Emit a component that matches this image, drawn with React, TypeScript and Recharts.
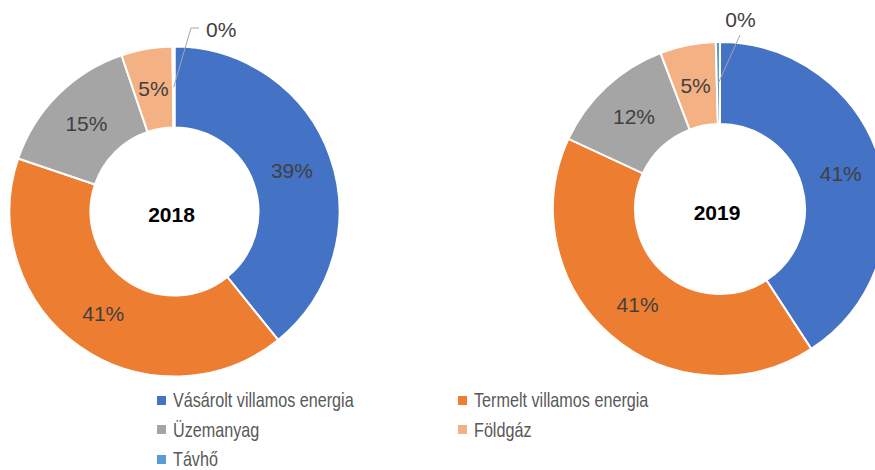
import React from 'react';
import { PieChart, Pie, Cell, Legend } from 'recharts';

// shares of energy sources, percent
const categories = ['Vásárolt villamos energia', 'Termelt villamos energia', 'Üzemanyag', 'Földgáz', 'Távhő'];
const values2018 = [39.2, 41.0, 14.6, 5.0, 0.2];
const values2019 = [40.8, 41.1, 12.3, 5.4, 0.4];
const years = ['2018', '2019'];
const colors = ['#4472C4', '#ED7D31', '#A5A5A5', '#F4B183', '#5B9BD5'];

const RADIAN = Math.PI / 180;
const FONT = '"Liberation Sans", Arial, sans-serif';

const toRows = (values: number[]) => categories.map((name, i) => ({ name, value: values[i] }));

interface Leader {
  dx: number;
  dy: number;
  tail: number;
  textDx: number;
  textDy: number;
  anchor: 'start' | 'middle';
}

// percent labels sit mid-ring; the tiny slice gets a leader line out of the ring.
// the year is drawn in the hole together with the first slice's label
const makeLabel = (year: string, leader: Leader) => (props: any) => {
  const { cx, cy, midAngle, innerRadius, outerRadius, percent, index } = props;
  const r = (innerRadius + outerRadius) / 2;
  const x = cx + r * Math.cos(-midAngle * RADIAN);
  const y = cy + r * Math.sin(-midAngle * RADIAN);
  const text = `${Math.round(percent * 100)}%`;

  if (index === categories.length - 1) {
    const ex = cx + leader.dx;
    const ey = cy + leader.dy;
    return (
      <g>
        <polyline
          points={`${x},${y} ${ex},${ey} ${ex + leader.tail},${ey}`}
          fill="none"
          stroke="#A6A6A6"
          strokeWidth={1}
        />
        <text
          x={cx + leader.textDx}
          y={cy + leader.textDy}
          textAnchor={leader.anchor}
          dominantBaseline="central"
          fill="#404040"
          fontSize={21}
          fontFamily={FONT}
        >
          {text}
        </text>
      </g>
    );
  }

  return (
    <g>
      <text
        x={x}
        y={y}
        textAnchor="middle"
        dominantBaseline="central"
        fill="#404040"
        fontSize={21}
        fontFamily={FONT}
      >
        {text}
      </text>
      {index === 0 && (
        <text
          x={cx - 3}
          y={cy + 3}
          textAnchor="middle"
          dominantBaseline="central"
          fill="#000"
          fontSize={21}
          fontWeight="bold"
          fontFamily={FONT}
        >
          {year}
        </text>
      )}
    </g>
  );
};

const leader2018: Leader = { dx: 16.5, dy: -183.5, tail: 8, textDx: 31.5, textDy: -182.5, anchor: 'start' };
const leader2019: Leader = { dx: 20, dy: -174, tail: 0, textDx: 20.5, textDy: -190, anchor: 'middle' };

const renderLegend = () => (
  <div style={{ position: 'relative', width: 875, height: 78, fontFamily: FONT, fontSize: 21, color: '#595959' }}>
    {categories.map((name, i) => {
      const col = i % 2;
      const row = Math.floor(i / 2);
      return (
        <div
          key={name}
          style={{
            position: 'absolute',
            left: col ? 458 : 157,
            top: row * 29.5,
            height: 20,
            lineHeight: '20px',
            display: 'flex',
            alignItems: 'center',
            whiteSpace: 'nowrap',
          }}
        >
          <span style={{ display: 'inline-block', width: 9, height: 9, background: colors[i], marginRight: 7 }} />
          <span style={{ display: 'inline-block', transform: 'scaleX(0.77)', transformOrigin: 'left center' }}>{name}</span>
        </div>
      );
    })}
  </div>
);

export default function App() {
  const data2018 = toRows(values2018);
  const data2019 = toRows(values2019);

  return (
    <div style={{ position: 'absolute', left: 0, top: 0, background: '#fff' }}>
      <PieChart width={875} height={470} margin={{ top: 0, right: 0, bottom: 0, left: 0 }}>
        <Pie
          data={data2018}
          dataKey="value"
          nameKey="name"
          cx={174.5}
          cy={211.5}
          innerRadius={84}
          outerRadius={165}
          startAngle={90}
          endAngle={-270}
          stroke="#fff"
          strokeWidth={2}
          labelLine={false}
          label={makeLabel(years[0], leader2018)}
          isAnimationActive={false}
        >
          {data2018.map((d, i) => (
            <Cell key={d.name} fill={colors[i]} />
          ))}
        </Pie>
        <Pie
          data={data2019}
          dataKey="value"
          nameKey="name"
          cx={720}
          cy={209}
          innerRadius={85}
          outerRadius={167}
          startAngle={90}
          endAngle={-270}
          stroke="#fff"
          strokeWidth={2}
          labelLine={false}
          label={makeLabel(years[1], leader2019)}
          isAnimationActive={false}
        >
          {data2019.map((d, i) => (
            <Cell key={d.name} fill={colors[i]} />
          ))}
        </Pie>
        <Legend
          content={renderLegend}
          wrapperStyle={{ left: 0, top: 390, width: 875, height: 78 }}
        />
      </PieChart>
    </div>
  );
}
